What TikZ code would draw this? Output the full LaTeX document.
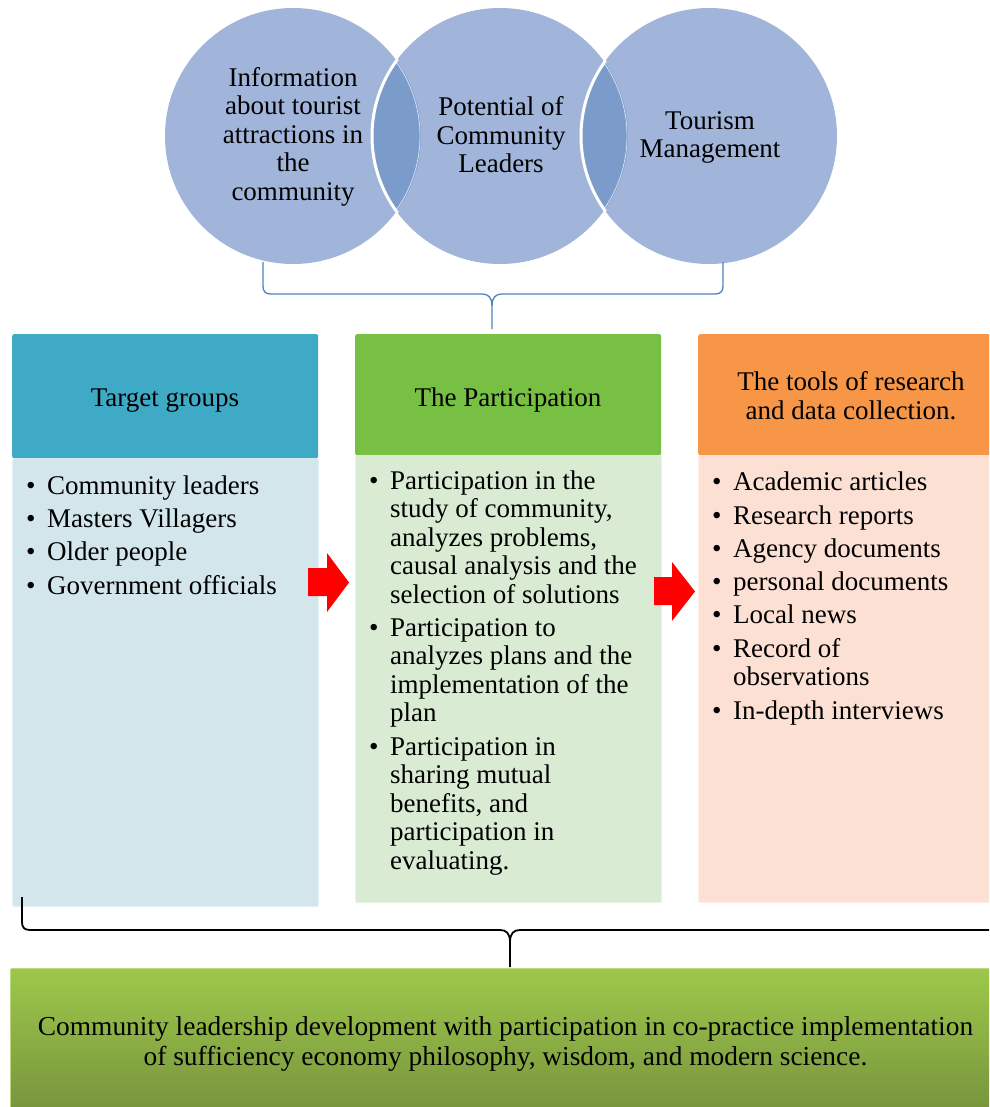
\documentclass[tikz,border=0pt]{standalone}
\usepackage{fontspec}
\setmainfont{Liberation Serif}
\definecolor{circfill}{HTML}{A1B5DA}
\definecolor{lensfill}{HTML}{7B9BCB}
\definecolor{hdrA}{HTML}{3EAAC6}
\definecolor{bodyA}{HTML}{D3E6EC}
\definecolor{hdrB}{HTML}{78C043}
\definecolor{bodyB}{HTML}{D9EBD3}
\definecolor{hdrC}{HTML}{F79646}
\definecolor{bodyC}{HTML}{FDE0D4}
\definecolor{botTop}{HTML}{9DC84B}
\definecolor{botBot}{HTML}{76923C}
\definecolor{braceblue}{HTML}{4F81BD}
\definecolor{arrowred}{HTML}{FF0000}
\newcommand{\bl}{\makebox[21pt][l]{\textbullet}}
\newcommand{\ind}{\hspace*{21pt}}
\tikzset{
  txt/.style={font=\fontsize{27}{28.5}\selectfont, inner sep=0pt, align=center, anchor=base},
  lst/.style={font=\fontsize{27}{28.5}\selectfont, inner sep=0pt, align=left, anchor=base west},
  circ/.style={circle, minimum size=256pt, inner sep=0pt, fill=circfill},
  hdrbox/.style={rectangle, rounded corners=2pt, inner sep=0pt, anchor=north west},
  bodybox/.style={rectangle, rounded corners=2pt, inner sep=0pt, anchor=north west, line width=1pt},
  redarrow/.style={fill=arrowred},
  bracetop/.style={draw=braceblue, line width=1.3pt},
  bracebot/.style={draw=black, line width=1.8pt},
}
\begin{document}
\begin{tikzpicture}[x=1pt,y=-1pt]
\useasboundingbox (0,0) rectangle (989,1107);
\clip (0,0) rectangle (989,1107);
% circles
\node[circ] (c1) at (293,136) {};
\node[circ] (c2) at (500,136) {};
\node[circ] (c3) at (709,136) {};
\begin{scope}
  \clip (c1.center) circle[radius=128];
  \fill[lensfill] (c2.center) circle[radius=128];
\end{scope}
\begin{scope}
  \clip (c2.center) circle[radius=128];
  \fill[lensfill] (c3.center) circle[radius=128];
\end{scope}
\begin{scope}
  \clip (c2.center) circle[radius=128];
  \draw[white!55!circfill, line width=0.8pt] (c1.center) circle[radius=127];
\end{scope}
\begin{scope}
  \clip (c3.center) circle[radius=128];
  \draw[white!55!circfill, line width=0.8pt] (c2.center) circle[radius=127];
\end{scope}
\begin{scope}
  \clip (c1.center) circle[radius=130];
  \draw[white, line width=3pt] (c2.center) circle[radius=128];
\end{scope}
\begin{scope}
  \clip (c2.center) circle[radius=130];
  \draw[white, line width=3pt] (c3.center) circle[radius=128];
\end{scope}
\node[txt] (c1t) at (293,200.5) {Information\\about tourist\\attractions in\\the\\community};
\node[txt] (c2t) at (501,173) {Potential of\\Community\\Leaders};
\node[txt] (c3t) at (710,158) {Tourism\\Management};
% top brace
\coordinate (tbL) at (263,262);
\coordinate (tbR) at (723,262);
\coordinate (tbTip) at (492,329);
\draw[bracetop] (tbL) -- (263,286) .. controls (263,291) and (265,294) .. (271,294) -- (482,294) .. controls (488,294) and (492,297) .. (492,306) -- (tbTip);
\draw[bracetop] (tbR) -- (723,286) .. controls (723,291) and (721,294) .. (715,294) -- (502,294) .. controls (496,294) and (492,297) .. (492,306);
% boxes
\node[bodybox, fill=bodyA, draw=bodyA!60!white, minimum width=306pt, minimum height=448pt] (b1) at (12,458) {};
\node[hdrbox, fill=hdrA, minimum width=306pt, minimum height=124pt] (h1) at (12,334) {};
\node[bodybox, fill=bodyB, draw=bodyB!60!white, minimum width=306pt, minimum height=447pt] (b2) at (355,455) {};
\node[hdrbox, fill=hdrB, minimum width=306pt, minimum height=121pt] (h2) at (355,334) {};
\node[bodybox, fill=bodyC, draw=bodyC!60!white, minimum width=310pt, minimum height=447pt] (b3) at (698,455) {};
\node[hdrbox, fill=hdrC, minimum width=310pt, minimum height=121pt] (h3) at (698,334) {};
\node[txt] (h1t) at (165,406) {Target groups};
\node[txt] (h2t) at (508,406) {The Participation};
\node[txt] (h3t) at (851,419) {The tools of research\\and data collection.};
% lists
\node[lst] (l1) at (26,594) {\bl Community leaders\\[4.7pt]\bl Masters Villagers\\[4.7pt]\bl Older people\\[4.7pt]\bl Government officials};
\node[lst] (l2) at (369,869) {\bl Participation in the\\\ind study of community,\\\ind analyzes problems,\\\ind causal analysis and the\\\ind selection of solutions\\[4.7pt]\bl Participation to\\\ind analyzes plans and the\\\ind implementation of the\\\ind plan\\[4.7pt]\bl Participation in\\\ind sharing mutual\\\ind benefits, and\\\ind participation in\\\ind evaluating.};
\node[lst] (l3) at (712,719) {\bl Academic articles\\[4.8pt]\bl Research reports\\[4.8pt]\bl Agency documents\\[4.8pt]\bl personal documents\\[4.8pt]\bl Local news\\[4.8pt]\bl Record of\\\ind observations\\[4.8pt]\bl In-depth interviews};
% red arrows
\fill[redarrow] (308,568) -- (327,568) -- (327,553) -- (349,582.5) -- (327,612) -- (327,596) -- (308,596) -- cycle;
\fill[redarrow] (654,577) -- (672,577) -- (672,562) -- (695,591.5) -- (672,621) -- (672,605) -- (654,605) -- cycle;
% bottom brace
\coordinate (bbL) at (22,897);
\coordinate (bbTip) at (510,967);
\draw[bracebot] (bbL) -- (22,922) .. controls (22,927) and (24,930) .. (30,930) -- (500,930) .. controls (506,930) and (510,933) .. (510,942) -- (bbTip);
\draw[bracebot] (1010,930) -- (520,930) .. controls (514,930) and (510,933) .. (510,942);
% bottom box
\node[hdrbox, top color=botTop, bottom color=botBot, draw=botTop!70!white, line width=0.8pt, minimum width=1000pt, minimum height=150pt] (bot) at (10,968) {};
\node[txt, font=\fontsize{27.4}{30}\selectfont] (bott) at (505.5,1065) {Community leadership development with participation in co-practice implementation\\of sufficiency economy philosophy, wisdom, and modern science.};
\end{tikzpicture}
\end{document}
